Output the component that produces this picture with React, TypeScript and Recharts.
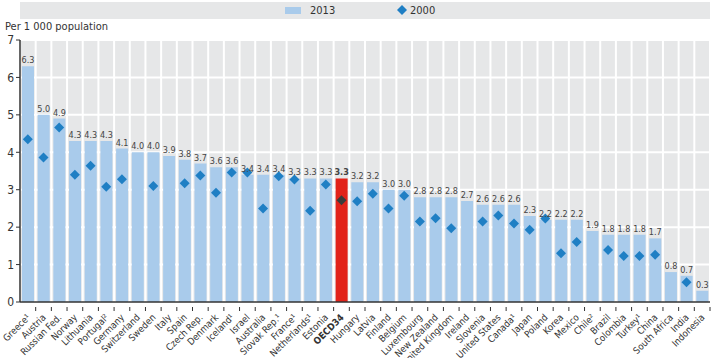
import { ComposedChart, Bar, Scatter, XAxis, YAxis, CartesianGrid, Cell, LabelList, Legend } from "recharts";

const countries = [
  "Greece¹", "Austria", "Russian Fed.", "Norway", "Lithuania", "Portugal²", "Germany", "Switzerland",
  "Sweden", "Italy", "Spain", "Czech Rep.", "Denmark", "Iceland¹", "Israel", "Australia",
  "Slovak Rep.¹", "France¹", "Netherlands¹", "Estonia", "OECD34", "Hungary", "Latvia", "Finland",
  "Belgium", "Luxembourg", "New Zealand", "United Kingdom", "Ireland", "Slovenia", "United States", "Canada¹",
  "Japan", "Poland", "Korea", "Mexico", "Chile²", "Brazil", "Colombia", "Turkey¹",
  "China", "South Africa", "India", "Indonesia",
];
const values2013 = [
  6.3, 5.0, 4.9, 4.3, 4.3, 4.3, 4.1, 4.0,
  4.0, 3.9, 3.8, 3.7, 3.6, 3.6, 3.4, 3.4,
  3.4, 3.3, 3.3, 3.3, 3.3, 3.2, 3.2, 3.0,
  3.0, 2.8, 2.8, 2.8, 2.7, 2.6, 2.6, 2.6,
  2.3, 2.2, 2.2, 2.2, 1.9, 1.8, 1.8, 1.8,
  1.7, 0.8, 0.7, 0.3,
];
const values2000 = [
  4.35, 3.86, 4.66, 3.4, 3.64, 3.08, 3.28, null,
  3.1, null, 3.17, 3.38, 2.92, 3.46, 3.46, 2.5,
  3.36, 3.27, 2.44, 3.14, 2.72, 2.69, 2.89, 2.5,
  2.84, 2.15, 2.24, 1.97, null, 2.15, 2.31, 2.1,
  1.93, 2.23, 1.3, 1.6, null, 1.39, 1.23, 1.23,
  1.26, null, 0.53, null,
];
const yTicks = [0, 1, 2, 3, 4, 5, 6, 7];

const HIGHLIGHT = "OECD34";
const FONT = "'Liberation Sans Narrow','DejaVu Sans Condensed','Liberation Sans',Arial,sans-serif";
const BAR_BLUE = "#a9cbeb";
const RED = "#e2231a";
const DIAMOND = "#1f7fc4";
const BG = "#e6e7e8";

const W = 718;
const H = 358;
const LEFT = 20;
const RIGHT = 8;
const TOP = 40;
const XAXIS_H = 56;
const plotW = W - LEFT - RIGHT;
const band = plotW / countries.length;
// white separators between the category columns
const columnEdges = Array.from({ length: countries.length + 1 }, (_, i) => LEFT + i * band);

const rows = countries.map((name, i) => ({ name, v2013: values2013[i], v2000: values2000[i] }));

function Diamond(props: any) {
  const { cx, cy, payload } = props;
  if (payload == null || payload.v2000 == null || !Number.isFinite(cx) || !Number.isFinite(cy)) return <g />;
  const r = 5;
  const fill = payload.name === HIGHLIGHT ? "#3b3b3b" : DIAMOND;
  return <path d={`M${cx},${cy - r}L${cx + r},${cy}L${cx},${cy + r}L${cx - r},${cy}Z`} fill={fill} />;
}

function CountryTick(props: any) {
  const { x, y, payload } = props;
  const bold = payload.value === HIGHLIGHT;
  return (
    <g>
      <line x1={x + band / 2} x2={x + band / 2} y1={y - 3} y2={y + 1} stroke="#333" strokeWidth={1} />
      <text
        x={x + 3}
        y={y + 8}
        transform={`rotate(-45 ${x + 3} ${y + 8})`}
        textAnchor="end"
        fontSize={9.5}
        fontFamily={FONT}
        fontWeight={bold ? 700 : 400}
        fill="#333"
      >
        {payload.value}
      </text>
    </g>
  );
}

function ValueLabel(props: any) {
  const { x, y, width, value, index } = props;
  const bold = countries[index] === HIGHLIGHT;
  return (
    <text x={x + width / 2} y={y - 3} textAnchor="middle" fontSize={9} fontFamily={FONT} fontWeight={bold ? 700 : 400} fill="#444">
      {Number(value).toFixed(1)}
    </text>
  );
}

function LegendBox() {
  return (
    <div style={{ width: plotW, height: 17, background: BG, position: "relative", fontFamily: FONT, fontSize: 11, color: "#333" }}>
      <span style={{ position: "absolute", left: 265, top: 5, width: 16, height: 7, background: BAR_BLUE }} />
      <span style={{ position: "absolute", left: 290, top: 2 }}>2013</span>
      <svg style={{ position: "absolute", left: 377, top: 3 }} width={10} height={10}>
        <path d="M5,0L10,5L5,10L0,5Z" fill={DIAMOND} />
      </svg>
      <span style={{ position: "absolute", left: 390, top: 2 }}>2000</span>
    </div>
  );
}

export default function App() {
  return (
    <div style={{ position: "absolute", left: 0, top: 0, width: W, height: H, background: "#fff" }}>
      <div style={{ position: "absolute", left: 5, top: 20, fontFamily: FONT, fontSize: 11, color: "#333" }}>Per 1 000 population</div>
      <ComposedChart width={W} height={H} data={rows} margin={{ top: TOP, right: RIGHT, bottom: 0, left: 0 }} barSize={12}>
        <CartesianGrid fill={BG} fillOpacity={1} stroke="#ffffff" strokeWidth={2} verticalPoints={columnEdges} />
        <XAxis
          dataKey="name"
          interval={0}
          height={XAXIS_H}
          tickLine={false}
          axisLine={{ stroke: "#333", strokeWidth: 1.5 }}
          tick={<CountryTick />}
        />
        <YAxis
          domain={[0, 7]}
          ticks={yTicks}
          width={LEFT}
          tickSize={4}
          tickMargin={2}
          axisLine={{ stroke: "#333", strokeWidth: 1.5 }}
          tickLine={{ stroke: "#333" }}
          tick={{ fontSize: 12, fill: "#333", fontFamily: FONT }}
        />
        <Legend
          verticalAlign="middle"
          align="center"
          layout="horizontal"
          wrapperStyle={{ position: "absolute", top: 2, left: LEFT, width: plotW, height: 17 }}
          content={() => <LegendBox />}
        />
        <Bar dataKey="v2013" name="2013" fill={BAR_BLUE} isAnimationActive={false}>
          {rows.map((r) => (
            <Cell key={r.name} fill={r.name === HIGHLIGHT ? RED : BAR_BLUE} />
          ))}
          <LabelList dataKey="v2013" content={<ValueLabel />} />
        </Bar>
        <Scatter dataKey="v2000" name="2000" fill={DIAMOND} shape={<Diamond />} isAnimationActive={false} />
      </ComposedChart>
    </div>
  );
}
